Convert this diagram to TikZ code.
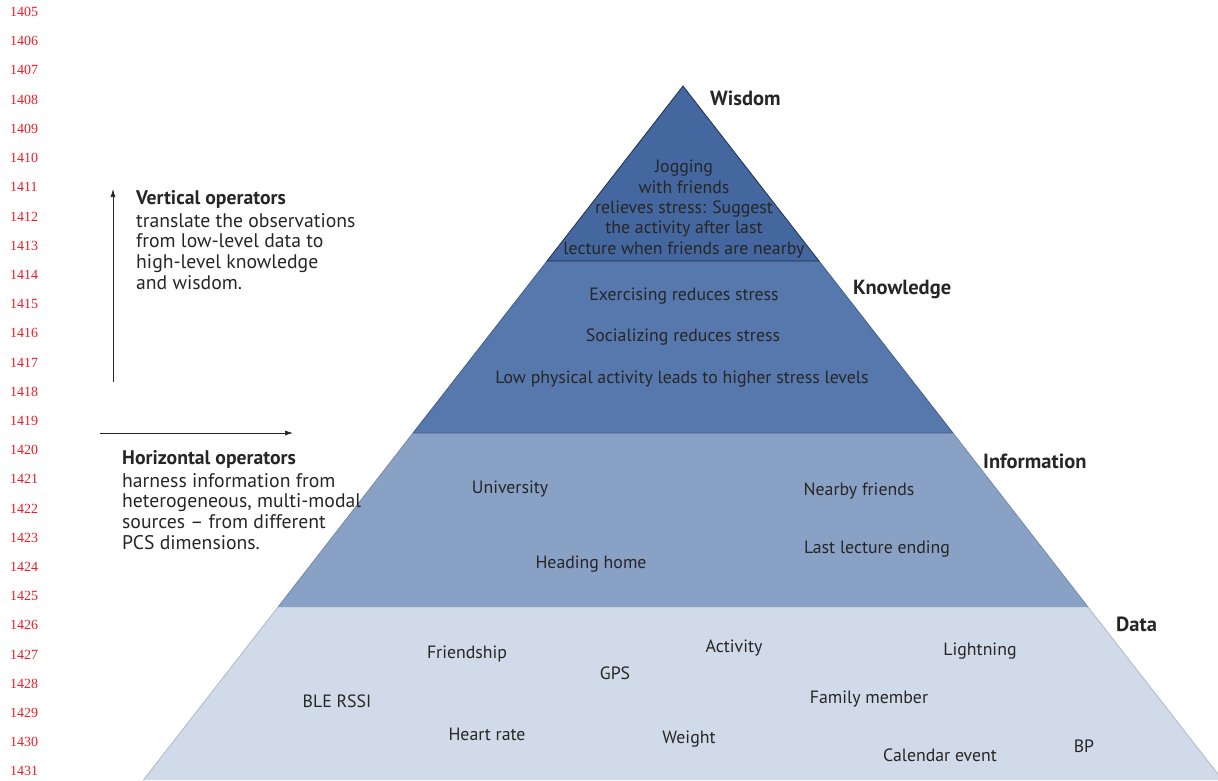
\documentclass[tikz,border=0pt]{standalone}
\usepackage{fontspec}
\setmainfont{PT Sans}
\newfontfamily\numfont{Liberation Serif}
\usetikzlibrary{arrows.meta}
\definecolor{wisdomC}{HTML}{4467A0}
\definecolor{knowC}{HTML}{5678AD}
\definecolor{infoC}{HTML}{8AA1C6}
\definecolor{dataC}{HTML}{D0DAE8}
\definecolor{txt}{HTML}{262626}
\definecolor{linered}{HTML}{EE1C24}
\tikzset{
  layer/.style={line width=0.8pt, line join=miter},
  item/.style={font=\fontsize{17.8}{20.3}\selectfont, text=txt, inner sep=0pt},
  level/.style={font=\fontsize{20.5}{24}\selectfont\bfseries, text=txt, inner sep=0pt, anchor=west},
  opblock/.style={font=\fontsize{19.7}{20.6}\selectfont, text=txt, inner sep=0pt, align=left, anchor=base west},
  lineno/.style={font=\numfont\fontsize{14}{14}\selectfont, text=linered, inner sep=0pt, anchor=west},
  oparrow/.style={-{Latex[length=8pt,width=5pt]}, line width=0.7pt, draw=txt},
}
\begin{document}
\begin{tikzpicture}[x=1pt,y=-1pt]
\useasboundingbox (0,0) rectangle (1218,780);
% pyramid corners
\coordinate (apex) at (683,86);
\coordinate (w-l) at (547,261);  \coordinate (w-r) at (819,261);
\coordinate (k-l) at (413,433);  \coordinate (k-r) at (953,433);
\coordinate (i-l) at (278,607);  \coordinate (i-r) at (1088,607);
\coordinate (d-l) at (143.4,780); \coordinate (d-r) at (1222.6,780);
% layers
\fill[dataC] (i-l) -- (i-r) -- (d-r) -- (d-l) -- cycle;
\draw[layer, draw=dataC!85!black] (d-l) -- (i-l) (i-r) -- (d-r);
\fill[infoC] (k-l) -- (k-r) -- (i-r) -- (i-l) -- cycle;
\draw[layer, draw=infoC!85!black] (i-l) -- (k-l) (k-r) -- (i-r);
\fill[knowC] (w-l) -- (w-r) -- (k-r) -- (k-l) -- cycle;
\draw[layer, draw=knowC!80!black] (k-l) -- (w-l) (w-r) -- (k-r) (k-l) -- (k-r);
\filldraw[layer, fill=wisdomC, draw=wisdomC!45!black] (apex) -- (w-r) -- (w-l) -- cycle;

% level labels
\node[level] (lw) at (710,98) {Wisdom};
\node[level] (lk) at (853,289) {Knowledge};
\node[level] (li) at (983,461) {Information};
\node[level] (ld) at (1116,624) {Data};

% wisdom text
\node[item, align=center] (wtext) at (684,209) {Jogging\\with friends\\relieves stress: Suggest\\the activity after last\\lecture when friends are nearby};

% knowledge
\node[item] (k1) at (684,296) {Exercising reduces stress};
\node[item] (k2) at (683,337) {Socializing reduces stress};
\node[item] (k3) at (682,379) {Low physical activity leads to higher stress levels};

% information
\node[item] (i1) at (510,489) {University};
\node[item] (i2) at (859,491) {Nearby friends};
\node[item] (i3) at (591,564) {Heading home};
\node[item] (i4) at (877,549) {Last lecture ending};

% data
\node[item] (d1) at (467,654) {Friendship};
\node[item] (d2) at (615,673) {GPS};
\node[item] (d3) at (734,648) {Activity};
\node[item] (d4) at (980,651) {Lightning};
\node[item] (d5) at (337,701) {BLE RSSI};
\node[item] (d6) at (869,699) {Family member};
\node[item] (d7) at (487,734) {Heart rate};
\node[item] (d8) at (689,739) {Weight};
\node[item] (d9) at (940,755) {Calendar event};
\node[item] (d10) at (1084,746) {BP};

% operators
\coordinate (va-s) at (113,382);
\coordinate (va-e) at (113,189);
\draw[oparrow] (va-s) -- (va-e);
\node[opblock] (vop) at (136,289) {\textbf{Vertical operators}\\[2.5pt]translate the observations\\from low-level data to\\high-level knowledge\\and wisdom.};

\coordinate (ha-s) at (100,433);
\coordinate (ha-e) at (293,433);
\draw[oparrow] (ha-s) -- (ha-e);
\node[opblock] (hop) at (122,549) {\textbf{Horizontal operators}\\[2.5pt]harness information from\\heterogeneous, multi-modal\\sources -- from different\\PCS dimensions.};

% line numbers
\foreach \n [count=\i from 0] in {1405,...,1431} {
  \node[lineno] (ln\n) at (10,{12+29.2*\i}) {\n};
}
\end{tikzpicture}
\end{document}
